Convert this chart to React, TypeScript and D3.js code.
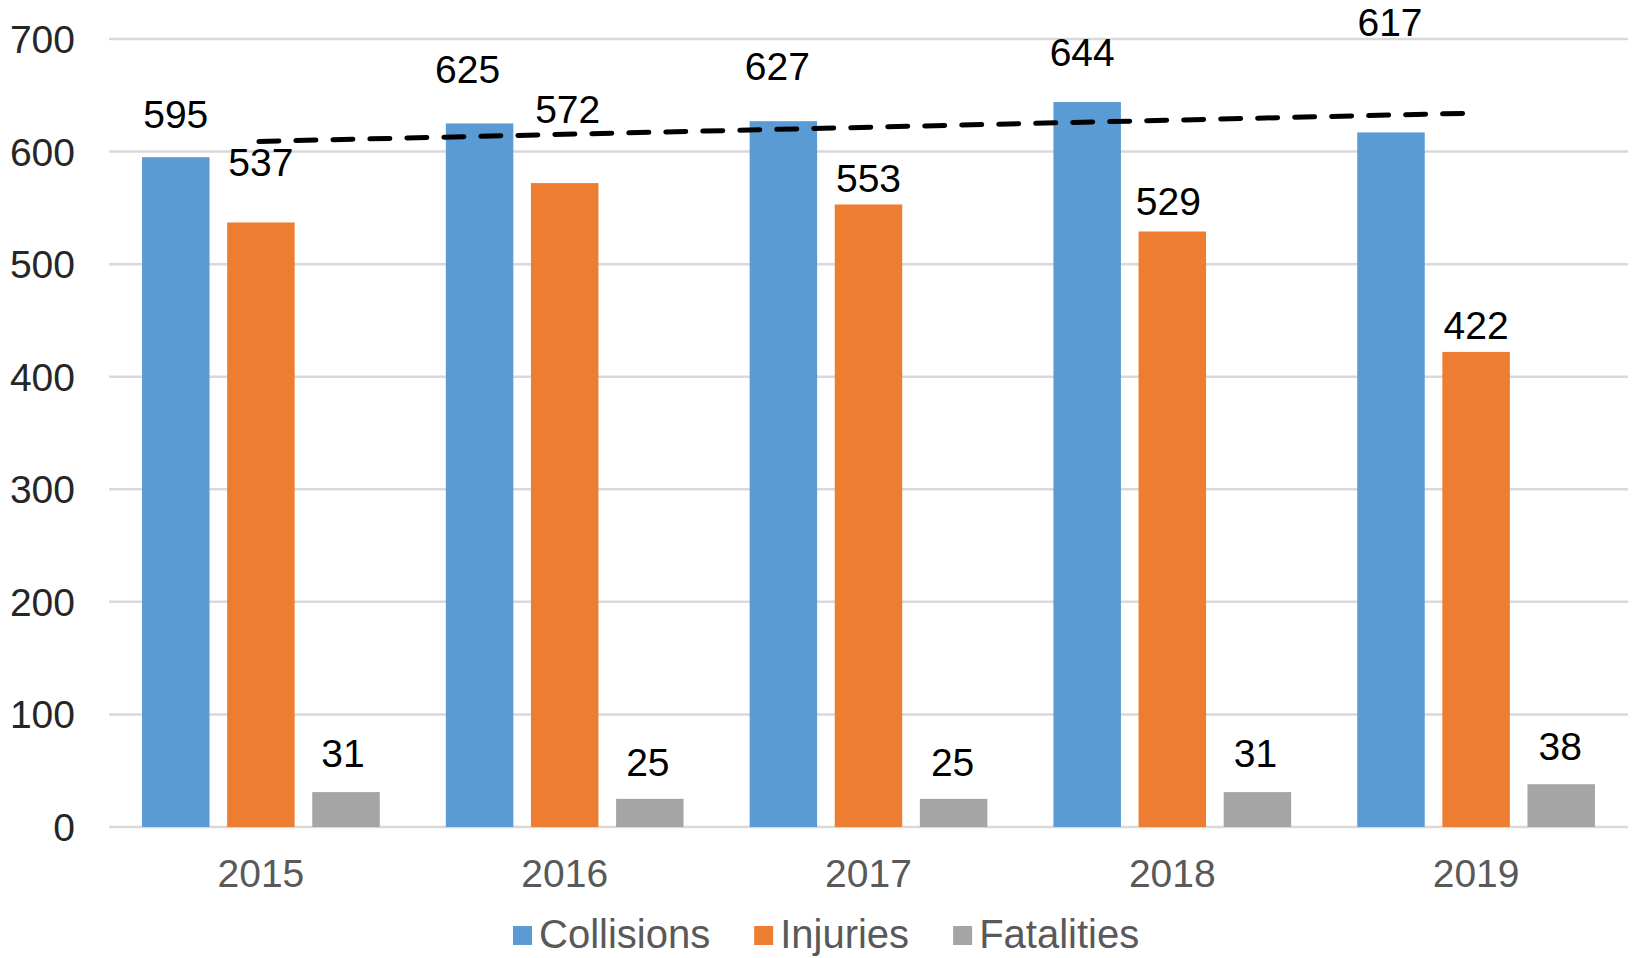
import React, { useEffect, useRef } from "react";
import * as d3 from "d3";

const years = ["2015", "2016", "2017", "2018", "2019"];
const seriesNames = ["Collisions", "Injuries", "Fatalities"];
const collisions = [595, 625, 627, 644, 617];
const injuries = [537, 572, 553, 529, 422];
const fatalities = [31, 25, 25, 31, 38];
const yTicks = [0, 100, 200, 300, 400, 500, 600, 700];
const colors = ["#5B9BD5", "#ED7D31", "#A5A5A5"];

// labels were dragged around by hand in the original, so keep their lift (px above bar top) and nudge
const labelLift = [
  [43, 54, 55, 50, 110],
  [61, 74, 27, 31, 27],
  [39, 37, 37, 39, 38],
];
const labelNudge = [
  [0, -12, -6, -5, -1],
  [0, 3, 0, -4, 0],
  [-3, -2, -1, -2, -1],
];

const App = () => {
  const svgRef = useRef<SVGSVGElement | null>(null);
  const w = 1633;
  const h = 958;
  const m = { top: 39, right: 5, bottom: 131, left: 109 };
  const fontSize = 39;

  useEffect(() => {
    d3.select(svgRef.current).selectAll("*").remove();
    const svg = d3.select(svgRef.current)
      .attr("width", w)
      .attr("height", h)
      .style("font-family", "'Liberation Sans', Arial, sans-serif");

    const values = [collisions, injuries, fatalities];

    const x = d3.scaleBand().domain(years).range([m.left, w - m.right]).padding(0);
    const xInner = d3.scaleBand()
      .domain(seriesNames)
      .range([0, x.bandwidth()])
      .paddingInner(0.207)
      .paddingOuter(0.388);
    const y = d3.scaleLinear().domain([0, 700]).range([h - m.bottom, m.top]);

    // gridlines
    svg.append("g")
      .selectAll("line")
      .data(yTicks)
      .enter()
      .append("line")
      .attr("x1", m.left)
      .attr("x2", w - m.right)
      .attr("y1", (d) => y(d))
      .attr("y2", (d) => y(d))
      .attr("stroke", "#D9D9D9")
      .attr("stroke-width", 2.5);

    // y tick labels
    svg.append("g")
      .selectAll("text")
      .data(yTicks)
      .enter()
      .append("text")
      .attr("x", 75)
      .attr("y", (d) => y(d) + fontSize * 0.36)
      .attr("text-anchor", "end")
      .attr("font-size", fontSize)
      .attr("fill", "#262626")
      .text((d) => d);

    // bars
    seriesNames.forEach((s, si) => {
      svg.append("g")
        .selectAll("rect")
        .data(values[si])
        .enter()
        .append("rect")
        .attr("x", (d, i) => x(years[i])! + xInner(s)!)
        .attr("y", (d) => y(d))
        .attr("width", xInner.bandwidth())
        .attr("height", (d) => y(0) - y(d))
        .attr("fill", colors[si]);
    });

    // linear trendline on collisions
    const xs = collisions.map((_, i) => i);
    const mx = d3.mean(xs)!;
    const my = d3.mean(collisions)!;
    const slope = d3.sum(xs, (xi, i) => (xi - mx) * (collisions[i] - my)) / d3.sum(xs, (xi) => (xi - mx) ** 2);
    const icpt = my - slope * mx;
    const first = 0;
    const last = years.length - 1;
    const cx = (i: number) => x(years[i])! + x.bandwidth() / 2;
    svg.append("line")
      .attr("x1", cx(first) - 2)
      .attr("x2", cx(last) - 12)
      .attr("y1", y(icpt + slope * first))
      .attr("y2", y(icpt + slope * (last - 12 / x.bandwidth())))
      .attr("stroke", "#000")
      .attr("stroke-width", 5)
      .attr("stroke-dasharray", "20 17")
      .attr("stroke-linecap", "round");

    // data labels
    seriesNames.forEach((s, si) => {
      svg.append("g")
        .selectAll("text")
        .data(values[si])
        .enter()
        .append("text")
        .attr("x", (d, i) => x(years[i])! + xInner(s)! + xInner.bandwidth() / 2 + labelNudge[si][i])
        .attr("y", (d, i) => y(d) - labelLift[si][i] + fontSize * 0.36)
        .attr("text-anchor", "middle")
        .attr("font-size", fontSize)
        .attr("fill", "#000")
        .text((d) => d);
    });

    // x labels
    svg.append("g")
      .selectAll("text")
      .data(years)
      .enter()
      .append("text")
      .attr("x", (d) => x(d)! + x.bandwidth() / 2)
      .attr("y", 873 + fontSize * 0.36)
      .attr("text-anchor", "middle")
      .attr("font-size", fontSize)
      .attr("fill", "#595959")
      .text((d) => d);

    // legend
    const legend = svg.append("g");
    let lx = 513;
    seriesNames.forEach((s, si) => {
      legend.append("rect")
        .attr("x", lx)
        .attr("y", 926)
        .attr("width", 19)
        .attr("height", 19)
        .attr("fill", colors[si]);
      const t = legend.append("text")
        .attr("x", lx + 26)
        .attr("y", 934 + 40 * 0.36)
        .attr("font-size", 40)
        .attr("fill", "#595959")
        .text(s);
      const len = (t.node() as SVGTextElement).getComputedTextLength();
      lx = lx + 26 + len + 44;
    });
  }, []);

  return <svg ref={svgRef} style={{ position: "absolute", left: 0, top: 0 }}></svg>;
};

export default App;
